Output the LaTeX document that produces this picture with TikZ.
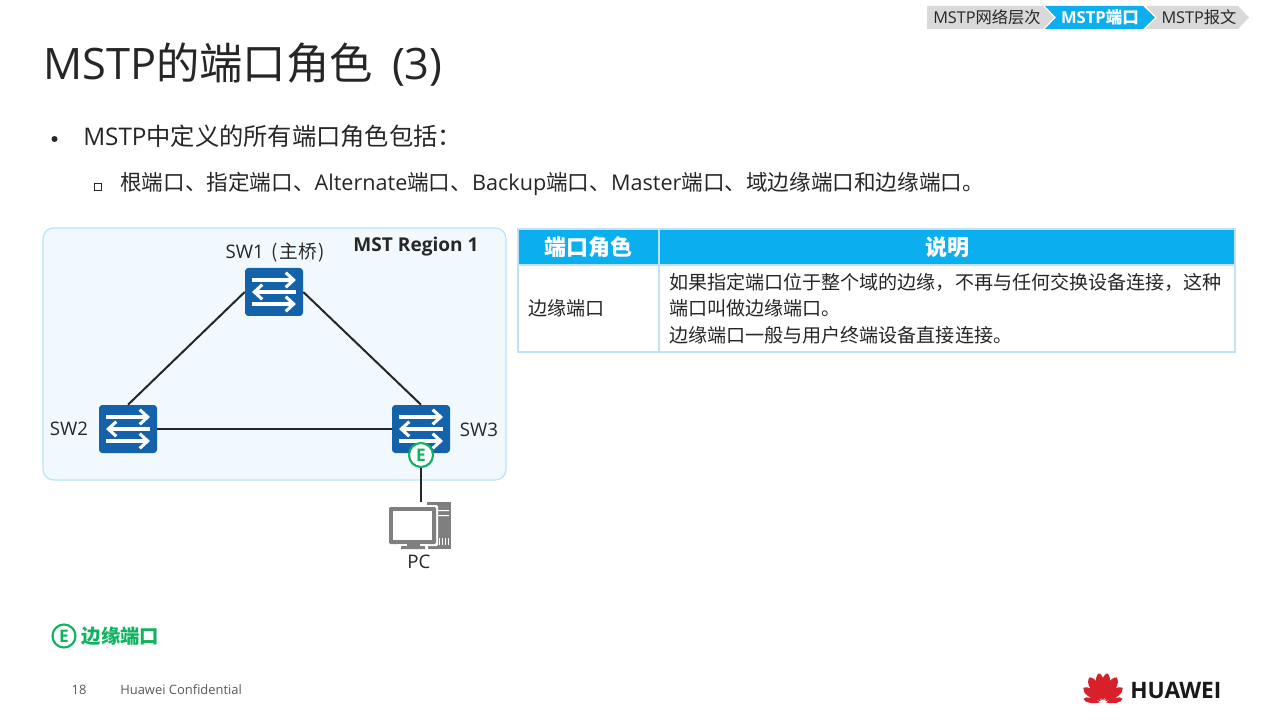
\documentclass[tikz,border=0pt]{standalone}
\usepackage{fontspec}
\setmainfont{Open Sans}
\newfontfamily\cjk{Noto Sans CJK SC}
\usetikzlibrary{arrows.meta,positioning}
\newcommand{\zh}[1]{{\cjk #1}}
\newcommand{\px}{0.75pt}
\definecolor{inktext}{HTML}{262626}
\definecolor{tabgray}{HTML}{D9D9D9}
\definecolor{tabblue}{HTML}{0BAEEF}
\definecolor{regionfill}{HTML}{F1F9FE}
\definecolor{regionline}{HTML}{B5E6F8}
\definecolor{switchblue}{HTML}{1462A9}
\definecolor{edgegreen}{HTML}{0FB35F}
\definecolor{pcgray}{HTML}{7F7F7F}
\definecolor{cellline}{HTML}{BFE2FA}
\definecolor{logored}{HTML}{D7202A}
\tikzset{
  label/.style={text=inktext,inner sep=0pt,font=\fontsize{14}{17}\selectfont},
  tabtext/.style={text=inktext,inner sep=0pt,font=\fontsize{12.2}{15}\selectfont},
  bodytext/.style={text=inktext,inner sep=0pt,anchor=west},
  switcharrow/.style={white,line width=2.3pt,-{Straight Barb[length=6pt,width=11pt]}},
  switchbox/.style={fill=switchblue,rounded corners=2.5pt,minimum width=58*\px,
    minimum height=48*\px,inner sep=0pt,path picture={
      \draw[switcharrow] (path picture bounding box.center)+(-22,-12)--+(22,-12);
      \draw[switcharrow] (path picture bounding box.center)+(22,0)--+(-22,0);
      \draw[switcharrow] (path picture bounding box.center)+(-22,12)--+(22,12);
    }},
  link/.style={draw=black!85,line width=1.5pt},
  edgeport/.style={circle,draw=edgegreen,fill=white,line width=1.6pt,inner sep=0pt,
    minimum size=24*\px,text=edgegreen,font=\fontsize{13}{15}\selectfont\bfseries},
  headcell/.style={draw=cellline,line width=1pt,fill=tabblue,text=white,inner sep=0pt,outer sep=0pt,
    minimum height=36*\px,font=\fontsize{16.5}{19}\selectfont\bfseries},
  bodycell/.style={draw=cellline,line width=1pt,fill=white,text=inktext,inner sep=0pt,outer sep=0pt,
    minimum height=87*\px,align=left}
}
\begin{document}
\begin{tikzpicture}[x=0.75pt,y=-0.75pt]
\useasboundingbox (0,0) rectangle (1288,723);
\fill[white] (0,0) rectangle (1288,723);
% breadcrumb
\fill[tabgray] (927,6)--(1043,6)--(1054,17.5)--(1043,29)--(927,29)--cycle;
\fill[tabgray] (1146,6)--(1238,6)--(1249,17.5)--(1238,29)--(1146,29)--(1157,17.5)--cycle;
\fill[tabblue] (1045,6)--(1143,6)--(1155,17.5)--(1143,29)--(1045,29)--(1056,17.5)--cycle;
\node[tabtext] (tabone) at (987,17.5) {MSTP\zh{网络层次}};
\node[tabtext,text=white,font=\fontsize{12.4}{15}\selectfont\bfseries] (tabtwo) at (1100,17.5) {MSTP\zh{端口}};
\node[tabtext] (tabthree) at (1199,17.5) {MSTP\zh{报文}};
% heading
\node[bodytext,font=\fontsize{32.5}{38}\selectfont] (title) at (43,65) {MSTP\zh{的端口角色}\hspace{6pt} (3)};
\fill[inktext] (54.5,139) circle (3);
\node[bodytext,font=\fontsize{18.2}{22}\selectfont] (lineone) at (83,136) {MSTP\zh{中定义的所有端口角色包括：}};
\draw[inktext,line width=0.9pt] (94.5,183.5) rectangle (101.5,190.5);
\node[bodytext,font=\fontsize{16.2}{20}\selectfont] (linetwo) at (120,184) {\zh{根端口、指定端口、}Alternate\zh{端口、}Backup\zh{端口、}Master\zh{端口、域边缘端口和边缘端口。}};
% region
\draw[regionline,fill=regionfill,line width=0.9pt,rounded corners=8pt] (43,228) rectangle (506,480);
\node[label,font=\fontsize{14.3}{17}\selectfont\bfseries] (region) at (416,247) {MST Region 1};
\node[switchbox] (swone) at (274,292) {};
\node[switchbox] (swtwo) at (128,429) {};
\node[switchbox] (swthree) at (421,429) {};
\node[label] (lblone) at (275,252) {SW1\hspace{6pt}\zh{(\hspace{1pt}主桥\hspace{1pt})}};
\node[label] (lbltwo) at (69,429) {SW2};
\node[label] (lblthree) at (479,430) {SW3};
\node[minimum width=62*\px,minimum height=48*\px,inner sep=0pt] (pc) at (420,526) {};
\node[edgeport] (edge) at (421,455) {E};
\draw[link] (swone.west)--(swtwo.north);
\draw[link] (swone.east)--(swthree.north);
\draw[link] (swtwo.east)--(swthree.west);
\draw[link] (edge.south)--(edge.south |- pc.north);
% pc
\fill[pcgray] (427,502) rectangle (451,549);
\fill[white] (438,510) rectangle (449,511) (438,515) rectangle (449,516);
\foreach \x in {439,442,445,448} \fill[white] (\x,538) rectangle +(1,7);
\fill[white,rounded corners=1pt] (387,505) rectangle (438,546);
\fill[pcgray,rounded corners=1pt] (389,507) rectangle (436,544);
\fill[white] (393,511) rectangle (432,540);
\fill[white] (398,544) rectangle (428,550);
\fill[pcgray] (407,544) rectangle (420,546) (401,546) rectangle (425,549);
\node[label] (pclabel) at (419,562) {PC};
% table
\node[headcell,minimum width=141*\px] (headrole) at (588.5,247) {\zh{端口角色}};
\node[headcell,minimum width=576*\px,right=0pt of headrole] (headnote) {\zh{说明}};
\node[bodycell,minimum width=141*\px,below=0pt of headrole,text width=121*\px,
  font=\fontsize{14.3}{20}\selectfont] (cellrole) {\zh{边缘端口}};
\node[bodycell,minimum width=576*\px,right=0pt of cellrole,text width=556*\px,
  font=\fontsize{14.3}{20}\selectfont] (cellnote)
  {\cjk 如果指定端口位于整个域的边缘，不再与任何交换设备连接，这种\\端口叫做边缘端口。\\边缘端口一般与用户终端设备直接连接。};
% legend
\node[edgeport,fill=none,minimum size=23*\px] (legendport) at (64,636) {E};
\node[bodytext,text=edgegreen,font=\fontsize{14.5}{17}\selectfont\bfseries,right=5*\px of legendport] (legendtext) {\zh{边缘端口}};
% footer
\node[label,text=black!65,font=\fontsize{9.7}{12}\selectfont] (page) at (79,690) {18};
\node[bodytext,text=black!65,font=\fontsize{9.7}{12}\selectfont] (conf) at (120,690) {Huawei Confidential};
\foreach \a/\l/\w in {-78/20/3.5,-52/25/5,-28/29/6,-8/30/5.5,8/30/5.5,28/29/6,52/25/5,78/20/3.5}
  \fill[logored,shift={(1103,703)},rotate=\a] (0,-3)..controls (-\w,-\l*0.5) and (-\w,-\l*0.9)..(0,-\l)..controls (\w,-\l*0.9) and (\w,-\l*0.5)..(0,-3)--cycle;
\node[bodytext,text=black!90,font=\fontsize{17}{20}\selectfont\bfseries] (brand) at (1130,690) {HUAWEI};
\end{tikzpicture}
\end{document}
